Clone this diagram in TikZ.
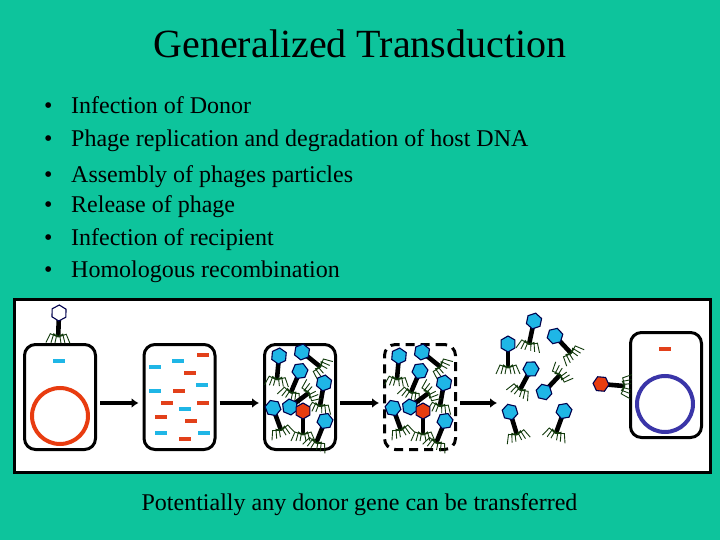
\documentclass[tikz,border=0pt]{standalone}
\usepackage{fontspec}
\setmainfont{Liberation Serif}
\usetikzlibrary{calc,arrows.meta}
\definecolor{slidebg}{HTML}{0DC49C}
\definecolor{genecyan}{HTML}{1FB6E6}
\definecolor{genered}{HTML}{E2401A}
\definecolor{ringred}{HTML}{E83C10}
\definecolor{ringblue}{HTML}{3A35A8}
\definecolor{footgreen}{HTML}{123A0C}
\tikzset{
  cell/.style={draw=black, line width=3pt, rounded corners=11pt, minimum width=71pt, minimum height=105pt, inner sep=0pt},
  ring/.style={circle, line width=4pt, minimum size=56pt, inner sep=0pt},
  gene/.style={minimum width=11.5pt, minimum height=4.5pt, inner sep=0pt},
  step arrow/.style={line width=3.8pt, -{Latex[length=7pt,width=10pt]}, shorten <=3pt, shorten >=4pt},
  bullet item/.style={anchor=base west, font=\fontsize{24}{26}\selectfont, inner sep=0pt},
  pics/phage/.style={code={
    \draw[line width=4.6pt] (0,4) -- (0,24);
    \foreach \s in {-1,1}
      \draw[footgreen, line width=0.9pt] (0,24) -- (\s*1.5,22) -- (\s*3,30) (0,24) -- (\s*4.5,21) -- (\s*7,30) (0,24) -- (\s*8,21) -- (\s*12,30);
    \draw[fill=#1, draw=black!70!blue, line width=1.1pt] (90:8) -- (30:8) -- (-30:8) -- (-90:8) -- (-150:8) -- (150:8) -- cycle;
  }}
}
\begin{document}
\begin{tikzpicture}[x=1pt, y=-1pt]
  \useasboundingbox (0,0) rectangle (720,540);
  \fill[slidebg] (0,0) rectangle (720,540);
  \node[font=\fontsize{40}{42}\selectfont, inner sep=0pt] (title) at (360,44) {Generalized Transduction};

  % Bullet list
  \foreach \y/\lab [count=\i] in {
    114/{Infection of Donor},
    147/{Phage replication and degradation of host DNA},
    183/{Assembly of phages particles},
    213/{Release of phage},
    245/{Infection of recipient},
    277/{Homologous recombination}%
  } {
    \node[bullet item] (dot\i) at (44,\y) {•};
    \node[bullet item] (item\i) at (71,\y) {\lab};
  }

  % Panel
  \draw[fill=white, line width=3pt] (14.5,299.5) rectangle (710.5,472.5);
  \node[font=\fontsize{24}{26}\selectfont, inner sep=0pt] (caption) at (359.5,505) {Potentially any donor gene can be transferred};

  % Cells
  \node[cell] (donor) at (60,397) {};
  \node[cell] (lysed) at (179.5,397) {};
  \node[cell] (packed) at (300,397) {};
  \node[cell, dash pattern=on 9pt off 6pt] (burst) at (420,397) {};
  \node[cell] (recipient) at (666,385) {};
  \coordinate (released) at (501,403);

  \node[ring, draw=ringred] (donorring) at (60,416) {};
  \node[ring, draw=ringblue] (recipring) at (665,404) {};

  % Arrows
  \draw[step arrow] ([yshift=-6pt]donor.east) -- ([yshift=-6pt]lysed.west);
  \draw[step arrow] ([yshift=-6pt]lysed.east) -- ([yshift=-6pt]packed.west);
  \draw[step arrow] ([yshift=-6pt]packed.east) -- ([yshift=-6pt]burst.west);
  \draw[step arrow] ([yshift=-6pt]burst.east) -- (released);

  % Gene pieces
  \foreach \x/\y/\col [count=\i] in {
    59/361/genecyan, 155/367/genecyan, 178/361/genecyan, 202/385/genecyan,
    155/391/genecyan, 185/409/genecyan, 161/433/genecyan, 204/433/genecyan,
    203/355/genered, 190/373/genered, 179/391/genered, 167/403/genered,
    203/403/genered, 161/417/genered, 191/421/genered, 185/439/genered,
    665/349/genered%
  } {
    \node[gene, fill=\col] (gene\i) at (\x,\y) {};
  }

  % Infecting phage
  \pic[rotate=-2] at (59,313) {phage=white};

  % Phages in the cell, twice
  \foreach \dx in {0,120} {
    \foreach \x/\y/\a/\col in {
      279/356/-5/genecyan, 302/352/51/genecyan, 300/371/-23/genecyan,
      324/383/-10/genecyan, 273/408/20/genecyan, 290/407/127/genecyan,
      303/411/0/ringred, 325/421/-22/genecyan%
    } {
      \pic[rotate=\a] at (\x+\dx,\y) {phage=\col};
    }
  }

  % Released phages
  \foreach \x/\y/\a in {
    534/321/-12, 555/336/43, 508/344/0, 531/369/-28,
    544/392/137, 510/412/17, 564/411/-20%
  } {
    \pic[rotate=\a] at (\x,\y) {phage=genecyan};
  }
  \pic[rotate=85] at (601,384) {phage=ringred};

\end{tikzpicture}
\end{document}
